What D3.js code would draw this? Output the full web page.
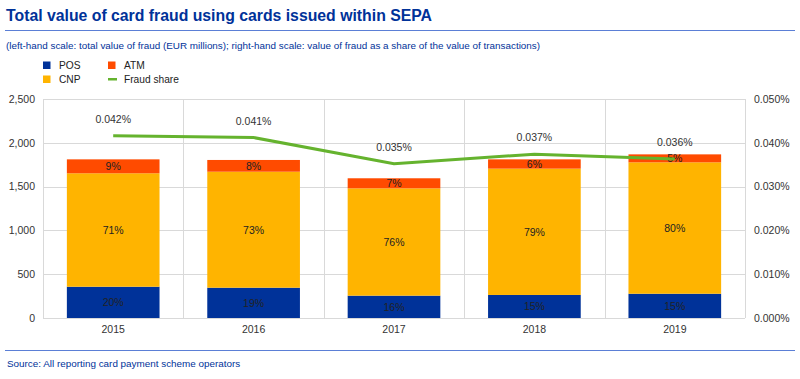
<!DOCTYPE html>
<html><head><meta charset="utf-8">
<script src="https://cdn.jsdelivr.net/npm/d3@7"></script>
<style>body{margin:0;background:#fff;font-family:Arial,"Liberation Sans",sans-serif;}</style>
</head><body>
<svg id="c" width="800" height="379"></svg>
<script>
const years = ["2015","2016","2017","2018","2019"];
const pos = [357, 346, 255, 263, 277];
const cnp = [1295, 1324, 1225, 1442, 1500];
const atm = [159, 134, 115, 106, 91];
const posLbl = ["20%","19%","16%","15%","15%"];
const cnpLbl = ["71%","73%","76%","79%","80%"];
const atmLbl = ["9%","8%","7%","6%","5%"];
const fraudShare = [0.0416, 0.0412, 0.0352, 0.0374, 0.0363];
const leftTicks = [0,500,1000,1500,2000,2500];
const rightTicks = [0,0.01,0.02,0.03,0.04,0.05];

const svg = d3.select("#c");
const font = "Arial, 'Liberation Sans', sans-serif";
const blue = "#003299", yellow = "#FFB400", orange = "#FF4B00", green = "#65B32E";
const L = 43, R = 745, T = 99, B = 318;

svg.append("text").attr("x",6).attr("y",21).text("Total value of card fraud using cards issued within SEPA")
  .attr("font-family",font).attr("font-size",15.8).attr("font-weight","bold").attr("fill",blue);
svg.append("line").attr("x1",5).attr("x2",795).attr("y1",30.5).attr("y2",30.5).attr("stroke","#5B7FD6").attr("stroke-width",1);
svg.append("text").attr("x",6).attr("y",49).text("(left-hand scale: total value of fraud (EUR millions); right-hand scale: value of fraud as a share of the value of transactions)")
  .attr("font-family",font).attr("font-size",9.9).attr("fill",blue);

// legend
const leg = [
  {t:"POS", c:blue, x:43, y:65, k:"r"},
  {t:"CNP", c:yellow, x:43, y:79, k:"r"},
  {t:"ATM", c:orange, x:108, y:65, k:"r"},
  {t:"Fraud share", c:green, x:108, y:79, k:"l"}
];
leg.forEach(d=>{
  if(d.k==="r") svg.append("rect").attr("x",d.x).attr("y",d.y-3.5).attr("width",7.5).attr("height",7.5).attr("fill",d.c);
  else svg.append("rect").attr("x",d.x).attr("y",d.y-1).attr("width",9).attr("height",2.5).attr("fill",d.c);
  svg.append("text").attr("x",d.x+16).attr("y",d.y+3.8).text(d.t).attr("font-family",font).attr("font-size",10.2).attr("fill","#222");
});

const x = d3.scaleBand().domain(years).range([L,R]).paddingInner(0).paddingOuter(0);
const y = d3.scaleLinear().domain([0,2500]).range([B,T]);
const y2 = d3.scaleLinear().domain([0,0.05]).range([B,T]);

// grid
const g = svg.append("g");
leftTicks.forEach(t=>{
  g.append("line").attr("x1",L).attr("x2",R).attr("y1",Math.round(y(t))+0.5).attr("y2",Math.round(y(t))+0.5).attr("stroke","#d9d9d9");
});
[L, ...years.map(yr=>x(yr)+x.bandwidth())].forEach(v=>{
  g.append("line").attr("x1",Math.round(v)+0.5).attr("x2",Math.round(v)+0.5).attr("y1",T).attr("y2",B).attr("stroke","#d9d9d9");
});

// axes
const yAxL = d3.axisLeft(y).tickValues(leftTicks).tickSize(0).tickPadding(8).tickFormat(d3.format(","));
const gl = svg.append("g").attr("transform",`translate(${L},0)`).call(yAxL);
const yAxR = d3.axisRight(y2).tickValues(rightTicks).tickSize(0).tickPadding(9).tickFormat(d=>d.toFixed(3)+"%");
const gr = svg.append("g").attr("transform",`translate(${R},0)`).call(yAxR);
const xAx = d3.axisBottom(x).tickSize(0).tickPadding(8);
const gx = svg.append("g").attr("transform",`translate(0,${B})`).call(xAx);
[gl,gr,gx].forEach(a=>{a.select(".domain").remove(); a.selectAll("text").attr("font-family",font).attr("font-size",10.5).attr("fill","#333");});

// bars
const bw = x.bandwidth()*0.66;
const series = [{v:pos,c:blue,l:posLbl},{v:cnp,c:yellow,l:cnpLbl},{v:atm,c:orange,l:atmLbl}];
years.forEach((yr,i)=>{
  let base = 0;
  const cx = x(yr)+x.bandwidth()/2;
  series.forEach(s=>{
    const v = s.v[i];
    svg.append("rect").attr("x",cx-bw/2).attr("width",bw).attr("y",y(base+v)).attr("height",y(base)-y(base+v)).attr("fill",s.c);
    svg.append("text").attr("x",cx).attr("y",(y(base)+y(base+v))/2+4).attr("text-anchor","middle").text(s.l[i])
      .attr("font-family",font).attr("font-size",10.5).attr("fill","#222");
    base += v;
  });
});

// line
const line = d3.line().x((d,i)=>x(years[i])+x.bandwidth()/2).y(d=>y2(d));
svg.append("path").datum(fraudShare).attr("d",line).attr("fill","none").attr("stroke",green).attr("stroke-width",3);
fraudShare.forEach((d,i)=>{
  svg.append("text").attr("x",x(years[i])+x.bandwidth()/2).attr("y",y2(d)-13).attr("text-anchor","middle")
    .text(d.toFixed(3)+"%").attr("font-family",font).attr("font-size",10.5).attr("fill","#333");
});

// footer
svg.append("line").attr("x1",5).attr("x2",795).attr("y1",350.5).attr("y2",350.5).attr("stroke","#5B7FD6").attr("stroke-width",1);
svg.append("text").attr("x",7).attr("y",367).text("Source: All reporting card payment scheme operators")
  .attr("font-family",font).attr("font-size",9.9).attr("fill",blue);
</script>
</body></html>
